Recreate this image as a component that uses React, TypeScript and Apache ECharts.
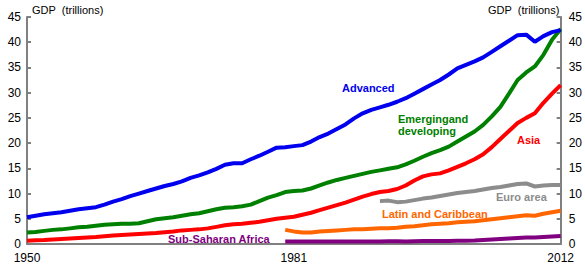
import React, { useEffect, useRef } from "react";
import * as echarts from "echarts";

const years: string[] = [];
for (let y = 1950; y <= 2012; y++) years.push(String(y));

const advanced = [
  5.3, 5.6, 5.9, 6.1, 6.3, 6.6, 6.9, 7.1, 7.3, 7.8,
  8.4, 8.9, 9.5, 10.0, 10.5, 11.0, 11.5, 11.9, 12.4, 13.1,
  13.6, 14.2, 14.9, 15.7, 16.0, 16.0, 16.8, 17.5, 18.3, 19.1,
  19.2, 19.4, 19.6, 20.3, 21.2, 21.9, 22.8, 23.7, 24.9, 25.9,
  26.6, 27.1, 27.6, 28.2, 28.9, 29.8, 30.7, 31.6, 32.5, 33.6,
  34.8, 35.5, 36.2, 37.0, 38.1, 39.2, 40.3, 41.4, 41.5, 40.1,
  41.2, 42.0, 42.4,
];
const emerging = [
  2.3, 2.4, 2.6, 2.8, 2.9, 3.1, 3.3, 3.4, 3.6, 3.8,
  3.9, 4.0, 4.0, 4.1, 4.5, 4.9, 5.1, 5.3, 5.6, 5.9,
  6.1, 6.5, 6.9, 7.2, 7.3, 7.5, 7.8, 8.5, 9.2, 9.7,
  10.3, 10.5, 10.6, 11.0, 11.6, 12.2, 12.7, 13.1, 13.5, 13.9,
  14.3, 14.6, 14.9, 15.2, 15.8, 16.5, 17.3, 18.0, 18.6, 19.3,
  20.3, 21.3, 22.3, 23.6, 25.3, 27.2, 29.8, 32.5, 34.0, 35.2,
  37.5, 40.5, 42.6,
];
const asia = [
  0.65, 0.75, 0.8, 0.9, 1.0, 1.1, 1.2, 1.3, 1.4, 1.55,
  1.7, 1.8, 1.9, 2.0, 2.1, 2.2, 2.35, 2.5, 2.7, 2.8,
  2.9, 3.1, 3.4, 3.7, 3.9, 4.0, 4.2, 4.4, 4.7, 5.0,
  5.2, 5.4, 5.8, 6.2, 6.7, 7.2, 7.7, 8.2, 8.8, 9.4,
  9.9, 10.3, 10.5, 10.9, 11.6, 12.6, 13.4, 13.8, 14.0, 14.6,
  15.3, 16.0, 16.8, 17.8, 19.2, 20.8, 22.4, 24.0, 25.0, 25.9,
  28.0, 29.8, 31.5,
];
// Euro area from 1991
const euroArea = [
  8.5, 8.6, 8.3, 8.4, 8.7, 9.0, 9.2, 9.5, 9.8,
  10.1, 10.3, 10.5, 10.8, 11.1, 11.3, 11.6, 11.9, 12.0, 11.4,
  11.6, 11.7, 11.7,
];
// Latin America and Caribbean from 1980
const latin = [
  2.8, 2.5, 2.3, 2.3, 2.5, 2.6, 2.7, 2.8, 2.9, 2.9,
  3.0, 3.1, 3.1, 3.2, 3.4, 3.5, 3.7, 3.9, 4.0, 4.1,
  4.3, 4.4, 4.5, 4.7, 4.9, 5.1, 5.3, 5.5, 5.7, 5.6,
  6.0, 6.3, 6.6,
];
// Sub-Saharan Africa from 1980
const ssa = [
  0.5, 0.5, 0.5, 0.5, 0.5, 0.5, 0.5, 0.5, 0.5, 0.5,
  0.5, 0.5, 0.55, 0.55, 0.5, 0.55, 0.6, 0.6, 0.6, 0.6,
  0.65, 0.65, 0.7, 0.8, 0.9, 1.0, 1.1, 1.2, 1.3, 1.3,
  1.4, 1.5, 1.6,
];

const padFront = (arr: number[], startYear: number) => {
  const out: (number | null)[] = [];
  for (let y = 1950; y < startYear; y++) out.push(null);
  return out.concat(arr);
};

const FONT = "Arial, 'Liberation Sans', sans-serif";

export default function App() {
  const ref = useRef<HTMLDivElement>(null);
  useEffect(() => {
    if (!ref.current) return;
    const chart = echarts.init(ref.current, undefined, { renderer: "svg" });
    const mkSeries = (name: string, data: (number | null)[], color: string) => ({
      name,
      type: "line",
      data,
      symbol: "none",
      lineStyle: { color, width: 4 },
      itemStyle: { color },
      connectNulls: false,
    });
    const yAxisCommon = {
      type: "value",
      min: 0,
      max: 45,
      interval: 5,
      splitLine: { show: false },
      axisLine: { show: true, lineStyle: { color: "#808080", width: 2 } },
      axisTick: { show: true, inside: true, length: 4, lineStyle: { color: "#808080", width: 2 } },
      axisLabel: { color: "#000", fontSize: 12, fontFamily: FONT },
    };
    const label = (text: string, x: number, y: number, color: string) => ({
      type: "text",
      x,
      y,
      style: { text, fill: color, font: `bold 11px ${FONT}`, textVerticalAlign: "middle" },
    });
    chart.setOption({
      animation: false,
      grid: { left: 27, right: 24, top: 17, bottom: 22 },
      xAxis: {
        type: "category",
        data: years,
        boundaryGap: false,
        axisLine: { show: true, lineStyle: { color: "#808080", width: 2 } },
        axisTick: { show: false },
        axisLabel: { interval: 30, color: "#000", fontSize: 12, fontFamily: FONT, margin: 8 },
      },
      yAxis: [
        { ...yAxisCommon, position: "left", axisLabel: { ...yAxisCommon.axisLabel, margin: 6 } },
        { ...yAxisCommon, position: "right", axisLabel: { ...yAxisCommon.axisLabel, margin: 8 } },
      ],
      series: [
        mkSeries("Sub-Saharan Africa", padFront(ssa, 1980), "#800080"),
        mkSeries("Latin and Caribbean", padFront(latin, 1980), "#ff6600"),
        mkSeries("Euro area", padFront(euroArea, 1991), "#8c8c8c"),
        mkSeries("Asia", asia, "#ff0000"),
        mkSeries("Emerging and developing", emerging, "#008000"),
        mkSeries("Advanced", advanced, "#0000ee"),
      ],
      graphic: [
        { type: "text", x: 32, y: 10, style: { text: "GDP  (trillions)", fill: "#000", font: `11px ${FONT}`, textVerticalAlign: "middle" } },
        { type: "text", x: 488, y: 10, style: { text: "GDP  (trillions)", fill: "#000", font: `11px ${FONT}`, textVerticalAlign: "middle" } },
        label("Advanced", 342, 88, "#0000ee"),
        label("Emergingand", 398, 119, "#008000"),
        label("developing", 398, 131, "#008000"),
        label("Asia", 517, 140, "#ff0000"),
        label("Euro area", 496, 197, "#8c8c8c"),
        label("Latin and Caribbean", 382, 214, "#ff6600"),
        label("Sub-Saharan Africa", 168, 239, "#800080"),
      ],
    });
    return () => chart.dispose();
  }, []);
  return <div ref={ref} style={{ width: 585, height: 266, position: "absolute", left: 0, top: 0 }} />;
}
